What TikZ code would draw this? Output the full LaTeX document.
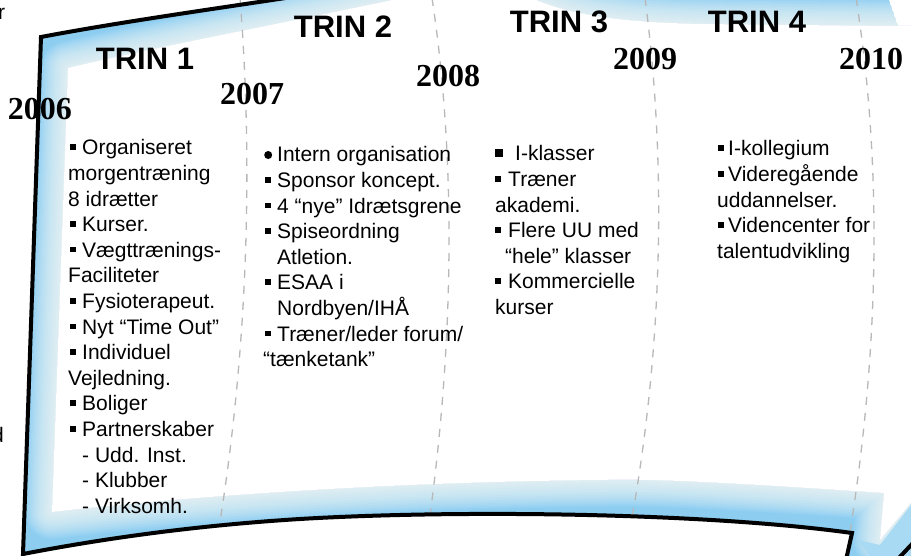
\documentclass[tikz,border=0pt]{standalone}
\usepackage{fontspec}
\setmainfont{Liberation Sans}
\newfontfamily\yearfont{Liberation Serif}
\definecolor{bandblue}{HTML}{8CCDF0}
\definecolor{dashgray}{HTML}{B8B8B8}
\newcommand\sqb{\rule[5pt]{5.5pt}{5.5pt}}
\newcommand\Bl{\hspace*{2pt}\sqb\hspace*{6.5pt}}
\newcommand\Bc{\sqb\hspace*{7.5pt}}
\newcommand\Bd{\hspace*{1pt}\sqb\hspace*{4.5pt}}
\newcommand\rdb{\raisebox{3pt}{\tikz\fill (0,0) circle (4pt);}}
\newcommand\bodyfont{\fontsize{21}{25.6}\selectfont}
\def\outerP{(41,37) .. controls (120,22) and (220,8) .. (292,-3) -- (888,-3) -- (898,26) -- (911,26) -- (911,560) -- (846,560) -- (852,533) .. controls (700,512) and (450,510) .. (300,519) .. controls (170,527) and (70,545) .. (23,554) -- cycle}
\def\innerP{(68,68) .. controls (150,48) and (300,20) .. (430,-8) -- (520,-8) .. controls (560,15) and (620,22) .. (700,24) -- (890,26) -- (915,26) -- (915,498) -- (880,540) -- (884,493) .. controls (750,484) and (650,478) .. (600,480) .. controls (400,482) and (200,495) .. (52,512) -- cycle}
\tikzset{
  trin/.style={font=\fontsize{31}{31}\selectfont\bfseries, anchor=base, inner sep=0pt},
  year/.style={font=\yearfont\fontsize{32}{32}\selectfont\bfseries, anchor=base, inner sep=0pt},
  col/.style={anchor=base west, inner sep=0pt},
  sep/.style={draw=dashgray, line width=1.3pt, dash pattern=on 8pt off 8pt},
  edge/.style={draw=black, line width=4pt, line join=miter}
}
\begin{document}
\begin{tikzpicture}[x=1pt,y=-1pt]
\useasboundingbox (0,0) rectangle (911,556);
\clip (0,0) rectangle (911,556);
% band and inner white area with soft edge
\begin{scope}
  \clip \outerP;
  \fill[bandblue] \outerP;
  \fill[white] \innerP;
  \foreach \w in {3,6,...,54}
    \draw[white, opacity=0.075, line width=\w pt, line join=round] \innerP;
\end{scope}
% bottom-right curl
\fill[bandblue!75] (858,540) -- (880,545) -- (911,505) -- (911,556) -- (870,556) -- cycle;
% dashed separators
\draw[sep] (240,-2) .. controls (252,150) and (250,330) .. (220,522);
\draw[sep] (432,-2) .. controls (455,150) and (455,330) .. (430,515);
\draw[sep] (645,-2) .. controls (665,150) and (665,330) .. (632,518);
\draw[sep] (856,-2) .. controls (880,150) and (882,330) .. (850,532);
% black edges
\draw[edge] (292,-3) .. controls (220,8) and (120,22) .. (41,37) -- (23,554) .. controls (70,545) and (170,527) .. (300,519) .. controls (450,510) and (700,512) .. (852,533) -- (846,560);
\draw[edge] (897,560) -- (913,543);
% cut-off texts at left border
\node[col, font=\bodyfont] (fragr) at (-2,20) {r};
\node[col, font=\bodyfont] (fragd) at (-8,442) {d};
% headings
\node[trin] (t1) at (145,70) {TRIN 1};
\node[trin] (t2) at (343,38) {TRIN 2};
\node[trin] (t3) at (559,33) {TRIN 3};
\node[trin] (t4) at (757,33) {TRIN 4};
% years
\node[year] (y6) at (40,120) {2006};
\node[year] (y7) at (252,105) {2007};
\node[year] (y8) at (448,87) {2008};
\node[year] (y9) at (645,70) {2009};
\node[year] (y10) at (871,70) {2010};
% columns
\node[col] (c1) at (68,155) {\parbox[t]{300pt}{\raggedright\bodyfont
\Bl Organiseret\\
morgentræning\\
8 idrætter\\
\Bl Kurser.\\
\Bl Vægttrænings-\\
Faciliteter\\
\Bl Fysioterapeut.\\
\Bl Nyt “Time Out”\\
\Bl Individuel\\
Vejledning.\\
\Bl Boliger\\
\Bl Partnerskaber\\
\hspace*{14pt}- Udd. Inst.\\
\hspace*{14pt}- Klubber\\
\hspace*{14pt}- Virksomh.}};
\node[col] (c2) at (263,162) {\parbox[t]{300pt}{\raggedright\bodyfont
\hspace*{1pt}\rdb\hspace*{5pt}Intern organisation\\
\Bl Sponsor koncept.\\
\Bl 4 “nye” Idrætsgrene\\
\Bl Spiseordning\\
\hspace*{14pt}Atletion.\\
\Bl ESAA i\\
\hspace*{14pt}Nordbyen/IHÅ\\
\Bl Træner/leder forum/\\
“tænketank”}};
\node[col] (c3) at (495,161) {\parbox[t]{300pt}{\raggedright\bodyfont
\rule[4pt]{8pt}{8pt}\hspace*{12pt}I-klasser\\
\Bc Træner\\
akademi.\\
\Bc Flere UU med\\
\hspace*{10pt}“hele” klasser\\
\Bc Kommercielle\\
kurser}};
\node[col] (c4) at (717,156) {\parbox[t]{300pt}{\raggedright\bodyfont
\Bd I-kollegium\\
\Bd Videregående\\
uddannelser.\\
\Bd Videncenter for\\
talentudvikling}};
\end{tikzpicture}
\end{document}
